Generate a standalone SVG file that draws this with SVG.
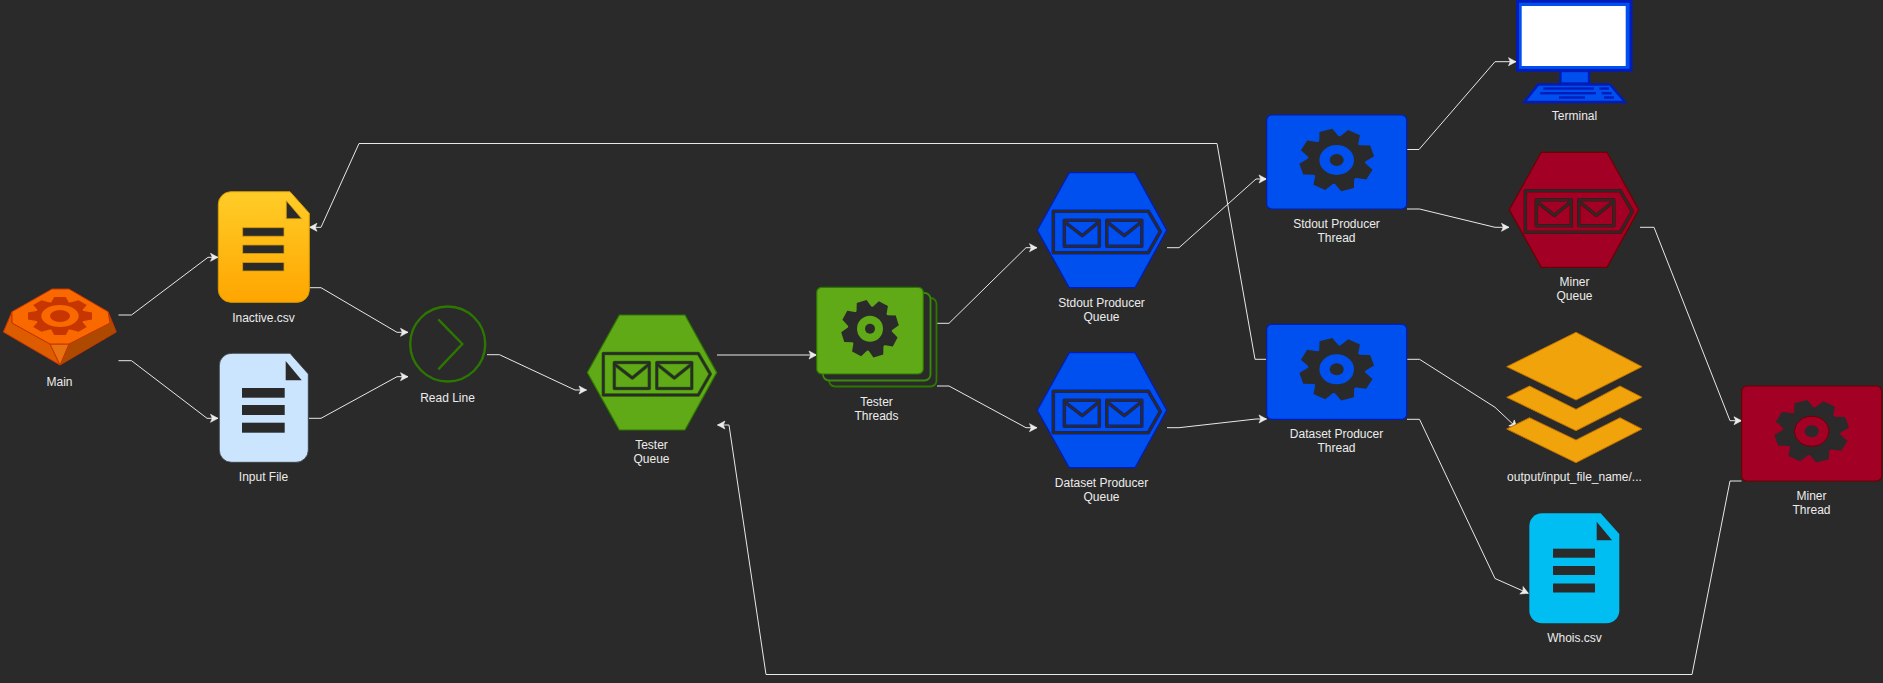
<svg xmlns="http://www.w3.org/2000/svg" width="1883" height="683" viewBox="0 0 1883 683">
<style>
text{font-family:"Liberation Sans",Arial,sans-serif;font-size:12px;fill:#ececec;text-anchor:middle;transform:translateY(1px)}
.c{fill:none;stroke:#e8e8e8;stroke-width:1;marker-end:url(#arr)}
.k{fill:#2a2a2a}
.green{fill:#60a917;stroke:#2d7600;stroke-width:1.2}
.blue{fill:#0050ef;stroke:#001dbc;stroke-width:1.2}
.red{fill:#a20025;stroke:#6f0000;stroke-width:1.2}
.layer{fill:#f0a30a;stroke:#bd7000;stroke-width:1}
</style>
<defs>
<linearGradient id="gold" x1="0" y1="0" x2="0" y2="1"><stop offset="0" stop-color="#ffcd28"/><stop offset="1" stop-color="#ffa500"/></linearGradient>
<marker id="arr" markerUnits="userSpaceOnUse" markerWidth="12" markerHeight="12" refX="9.500" refY="6" orient="auto"><path d="M2 2L9.500 6L2 10L3.800 6Z" fill="#ececec" stroke="#ececec" stroke-width=".6"/></marker>
<g id="gear">
<circle r="0.77"/>
<path id="t" d="M-.18-1H.18L.28-.7H-.28Z"/>
<use href="#t" transform="rotate(45)"/><use href="#t" transform="rotate(90)"/><use href="#t" transform="rotate(135)"/><use href="#t" transform="rotate(180)"/><use href="#t" transform="rotate(225)"/><use href="#t" transform="rotate(270)"/><use href="#t" transform="rotate(315)"/>
</g>
<g id="mqshape" fill="none" stroke-linejoin="round">
<path d="M16 38.500H111L123 59L111 80H16Z"/>
<rect x="27" y="47.500" width="35" height="26"/>
<path d="M27 49L45 63L62 49"/>
<rect x="69.500" y="47.500" width="35" height="26"/>
<path d="M69.500 49L87 63L104.500 49"/>
</g>
<g id="mq"><use href="#mqshape" stroke-width="3.600"/><use href="#mqshape" stroke="#2a2a2a" stroke-width="2.400"/></g>
<polygon id="hex" points="0,57.500 32,0 97.700,0 129.400,57.500 97.700,115 32,115"/>
</defs>
<rect width="1883" height="683" fill="#2a2a2a"/>
<g id="connectors">
<path class="c" d="M118.500 315H131.500L208 257.300H218"/>
<path class="c" d="M118.500 360.700H131.500L207 418.300H218"/>
<path class="c" d="M309.300 287.700H321L397 332.300H408"/>
<path class="c" d="M309 418.300H321L397 376.700H408"/>
<path class="c" d="M487 354.700H499.500L575 390H586.500"/>
<path class="c" d="M717 355H816.500"/>
<path class="c" d="M937 323.300H949L1026 247.700H1037"/>
<path class="c" d="M937 386H949L1026 427.700H1037"/>
<path class="c" d="M1167 247.700H1179L1256 179H1266.500"/>
<path class="c" d="M1167 427.700H1179L1256 419H1266.500"/>
<path class="c" d="M1407 149.500H1419L1495 61.700H1516"/>
<path class="c" d="M1407 209H1419.500L1495 227.300H1509"/>
<path class="c" d="M1407 359.300H1419.500L1495 407.300L1517 428"/>
<path class="c" d="M1407 419.300H1419.500L1495 578.500L1528.300 593.300"/>
<path class="c" d="M1640 227.300H1654L1730 420.700H1741.500"/>
<path class="c" d="M1741.500 481H1730L1692 674.500H766L729 425H717.500"/>
<path class="c" d="M1266.500 359.300H1255L1217 143.500H359L321 227.300H309.500"/>
</g>
<g id="main">
<polygon points="12,311.700 3.300,332 60,365 50,344 12,323" fill="#de5c00" stroke="#c73500" stroke-width="1"/>
<polygon points="108,311.700 116.300,332 60,365 69,344 110,323" fill="#ae4a00" stroke="#c73500" stroke-width="1"/>
<polygon points="50,344 69,344 60,365" fill="#e87210" stroke="#c73500" stroke-width="1"/>
<polygon points="12,311.700 52,289 69,289 108,311.700 110,323 69,344 50,344 12,323" fill="#fa6800" stroke="#c73500" stroke-width="1"/>
<use href="#gear" fill="#c73500" transform="translate(60,316) scale(32,19)"/>
<ellipse cx="60" cy="316" rx="18.700" ry="11" fill="#fa6800"/>
<ellipse cx="60" cy="316" rx="10" ry="6" fill="#c73500"/>
<text x="59.500" y="385">Main</text>
</g>
<g id="inactive">
<path d="M231 191.700H290L309.300 213.300V290A12.300 12.300 0 0 1 297 302.300H231A12.700 12.700 0 0 1 218.300 289.600V204.400A12.700 12.700 0 0 1 231 191.700Z" fill="url(#gold)" stroke="#d79b00" stroke-width="1"/>
<polygon class="k" points="286.300,200.700 286.300,218.700 301.700,218.700" stroke="#d79b00" stroke-width=".8"/>
<g class="k" stroke="#d79b00" stroke-width=".8"><rect x="242.700" y="227.700" width="41.300" height="8.500"/><rect x="242.700" y="245" width="41.300" height="8.500"/><rect x="242.700" y="262.500" width="41.300" height="8.500"/></g>
<text x="263.500" y="320.500">Inactive.csv</text>
</g>
<g id="input">
<path d="M231 353.300H290L308.300 374V450A12.300 12.300 0 0 1 296 462.300H231.500A12.200 12.200 0 0 1 219.300 450.100V365.500A12.200 12.200 0 0 1 231.500 353.300Z" fill="#cce5ff" stroke="#36393d" stroke-width=".8"/>
<polygon class="k" points="285.700,361 285.700,380.300 301.700,380.300"/>
<g class="k"><rect x="242" y="388" width="42.700" height="9.700"/><rect x="242" y="405" width="42.700" height="10"/><rect x="242" y="422.700" width="42.700" height="10"/></g>
<text x="263.500" y="480">Input File</text>
</g>
<g id="read-line">
<circle cx="447.700" cy="344" r="37.500" fill="none" stroke="#2d7600" stroke-width="2.400"/>
<path d="M438.300 319.300L462.300 344L438.300 369.300" fill="none" stroke="#2d7600" stroke-width="2.400"/>
<text x="447.500" y="401">Read Line</text>
</g>
<g id="tester-queue">
<use href="#hex" class="green" x="587.300" y="315"/>
<use href="#mq" stroke="#2d7600" x="587.300" y="315"/>
<text x="651.500" y="448">Tester</text><text x="651.500" y="462">Queue</text>
</g>
<g id="tester-threads">
<rect x="829" y="298" width="107.500" height="88.500" rx="6" fill="#2a2a2a" stroke="#2d7600" stroke-width="1.800"/>
<rect x="823" y="293" width="107.500" height="87.500" rx="6" fill="#2a2a2a" stroke="#3a8a0a" stroke-width="1.800"/>
<rect x="816.700" y="287.300" width="106.600" height="86.700" rx="5" class="green"/>
<use href="#gear" class="k" transform="translate(870,328.700) rotate(-17) scale(28.500)"/>
<circle cx="870" cy="328.700" r="13" fill="#60a917"/><circle cx="870" cy="328.700" r="5" class="k"/>
<text x="876.500" y="405">Tester</text><text x="876.500" y="419">Threads</text>
</g>
<g id="stdout-queue">
<use href="#hex" class="blue" x="1037.300" y="172.700"/>
<use href="#mq" stroke="#001dbc" x="1037.300" y="172.700"/>
<text x="1101.500" y="306">Stdout Producer</text><text x="1101.500" y="320">Queue</text>
</g>
<g id="dataset-queue">
<use href="#hex" class="blue" x="1037.300" y="352.700"/>
<use href="#mq" stroke="#001dbc" x="1037.300" y="352.700"/>
<text x="1101.500" y="486">Dataset Producer</text><text x="1101.500" y="500">Queue</text>
</g>
<g id="stdout-thread">
<rect x="1266.700" y="115" width="140" height="94" rx="5" class="blue"/>
<use href="#gear" class="k" transform="translate(1336.700,160) scale(37,31) rotate(-17)"/>
<ellipse cx="1336.700" cy="160" rx="17.300" ry="15" fill="#0050ef"/><ellipse cx="1336.700" cy="160" rx="7" ry="6" class="k"/>
<text x="1336.500" y="227">Stdout Producer</text><text x="1336.500" y="241">Thread</text>
</g>
<g id="dataset-thread">
<rect x="1266.700" y="324.300" width="140" height="95" rx="5" class="blue"/>
<use href="#gear" class="k" transform="translate(1336.700,369.300) scale(37,31) rotate(-17)"/>
<ellipse cx="1336.700" cy="369.300" rx="17.300" ry="15" fill="#0050ef"/><ellipse cx="1336.700" cy="369.300" rx="7" ry="6" class="k"/>
<text x="1336.500" y="437">Dataset Producer</text><text x="1336.500" y="451">Thread</text>
</g>
<g id="terminal">
<polygon points="1538.300,84.500 1610,84.500 1625,102 1524.300,102" fill="#0050ef" stroke="#001dbc" stroke-width="2.400"/>
<rect x="1560.500" y="71" width="28.500" height="12.500" fill="#0050ef" stroke="#001dbc" stroke-width="2.400"/>
<rect x="1517.500" y="1.300" width="113.500" height="69" fill="#0050ef" stroke="#001dbc" stroke-width="3"/>
<rect x="1521.700" y="6" width="104" height="60" fill="#fff"/>
<g fill="#001dbc"><rect x="1543.300" y="87.300" width="50.700" height="2.400"/><rect x="1599.300" y="87.300" width="9.700" height="2.400"/><rect x="1540" y="92" width="56" height="2.400"/><rect x="1601.700" y="92" width="10" height="2.400"/><rect x="1559" y="96.300" width="26" height="2.400"/><rect x="1604" y="96.300" width="10" height="2.400"/></g>
<text x="1574.500" y="119">Terminal</text>
</g>
<g id="miner-queue">
<use href="#hex" class="red" x="1509.300" y="152.300"/>
<use href="#mq" stroke="#6f0000" x="1509.300" y="152.300"/>
<text x="1574.500" y="285">Miner</text><text x="1574.500" y="299">Queue</text>
</g>
<g id="output">
<polygon class="layer" points="1506.700,429 1529.500,417.700 1576,440 1620,417.700 1642,429 1576,462.700"/>
<polygon class="layer" points="1506.700,397.300 1529.500,386 1576,409.300 1620,386 1642,397.300 1576,430.700"/>
<polygon class="layer" points="1506.700,366.700 1576,332.300 1642,366.700 1576,400"/>
<text x="1574.500" y="480">output/input_file_name/...</text>
</g>
<g id="whois">
<path d="M1542 513.300H1600.700L1619.300 534V610.500A12.800 12.800 0 0 1 1606.500 623.300H1542A12.700 12.700 0 0 1 1529.300 610.600V526A12.700 12.700 0 0 1 1542 513.300Z" fill="#00bef2"/>
<polygon class="k" points="1596.700,521.700 1596.700,540.300 1612,540.300"/>
<g class="k"><rect x="1553" y="548.700" width="42" height="9"/><rect x="1553" y="566" width="42" height="9"/><rect x="1553" y="583.500" width="42" height="9"/></g>
<text x="1574.500" y="641">Whois.csv</text>
</g>
<g id="miner-thread">
<rect x="1741.700" y="386" width="140" height="95" rx="5" class="red"/>
<use href="#gear" class="k" transform="translate(1811.700,431.300) scale(37,31) rotate(-17)"/>
<ellipse cx="1811.700" cy="431.300" rx="17.300" ry="15" fill="#a20025" stroke="#6f0000"/><ellipse cx="1811.700" cy="431.300" rx="7" ry="6" class="k"/>
<text x="1811.500" y="499">Miner</text><text x="1811.500" y="513">Thread</text>
</g>
</svg>
